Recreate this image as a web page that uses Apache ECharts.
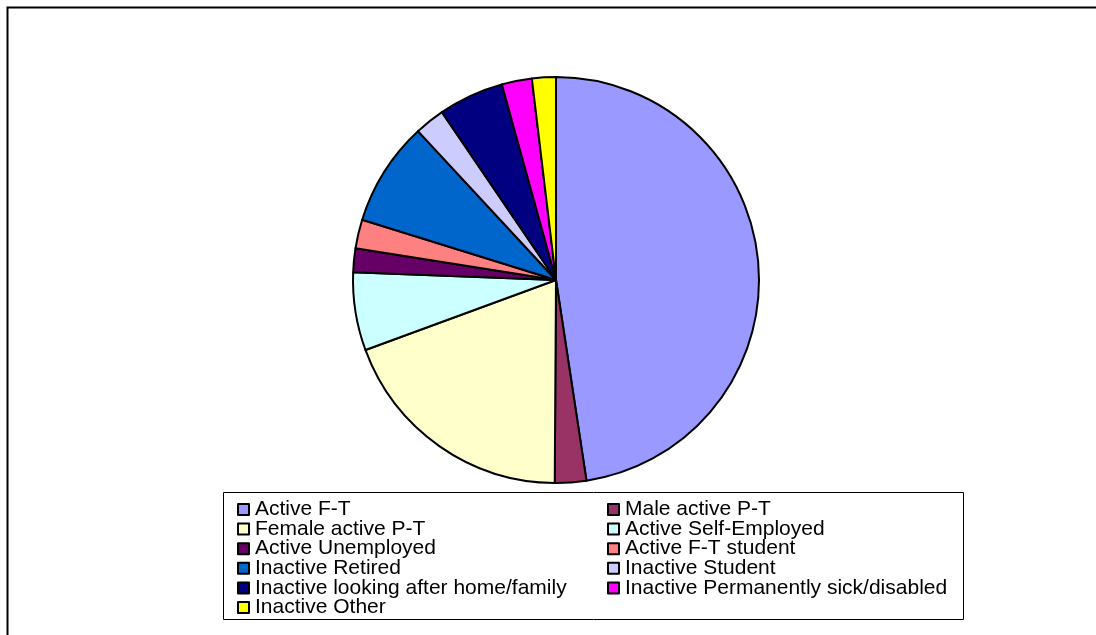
<!DOCTYPE html>
<html>
<head>
<meta charset="utf-8">
<script src="https://cdn.jsdelivr.net/npm/echarts@6/dist/echarts.min.js"></script>
<style>
  html, body { margin: 0; padding: 0; background: #fff; }
  #main { width: 1096px; height: 635px; }
</style>
</head>
<body>
<div id="main"></div>
<script>
// categories and shares (%)
var categories = [
  'Active F-T', 'Male active P-T', 'Female active P-T', 'Active Self-Employed',
  'Active Unemployed', 'Active F-T student', 'Inactive Retired', 'Inactive Student',
  'Inactive looking after home/family', 'Inactive Permanently sick/disabled', 'Inactive Other'
];
var values = [47.6, 2.5, 19.3, 6.2, 1.9, 2.3, 8.3, 2.4, 5.2, 2.4, 1.9];
var colors = ['#9999FF', '#993366', '#FFFFCC', '#CCFFFF', '#660066', '#FF8080',
  '#0066CC', '#CCCCFF', '#000080', '#FF00FF', '#FFFF00'];

var chart = echarts.init(document.getElementById('main'));

var leftCol = categories.filter(function (c, i) { return i % 2 === 0; });
var rightCol = categories.filter(function (c, i) { return i % 2 === 1; });

function legendCol(data, left) {
  return {
    data: data,
    orient: 'vertical',
    left: left,
    top: 499,
    padding: 0,
    itemGap: -1.4,
    itemWidth: 11,
    itemHeight: 11,
    icon: 'rect',
    selectedMode: false,
    itemStyle: { borderColor: '#000', borderWidth: 2 },
    textStyle: {
      fontFamily: 'Liberation Sans', fontSize: 21, color: '#000',
      padding: [0, 0, 0, 1]
    }
  };
}

var option = {
  animation: false,
  backgroundColor: '#fff',
  color: colors,
  graphic: [
    // outer frame (only top and left edges are inside the picture)
    { type: 'rect', shape: { x: 7.5, y: 7.5, width: 1200, height: 800 },
      style: { fill: null, stroke: '#000', lineWidth: 2 }, silent: true },
    // legend box
    { type: 'rect', shape: { x: 223.5, y: 492.5, width: 740, height: 127 },
      style: { fill: '#fff', stroke: '#000', lineWidth: 1 }, silent: true, z: -1 }
  ],
  legend: [legendCol(leftCol, 237), legendCol(rightCol, 607)],
  series: [{
    type: 'pie',
    center: [556, 280],
    radius: 203,
    startAngle: 90,
    clockwise: true,
    silent: true,
    label: { show: false },
    labelLine: { show: false },
    itemStyle: { borderColor: '#000', borderWidth: 2 },
    data: categories.map(function (c, i) { return { name: c, value: values[i] }; })
  }]
};

chart.setOption(option);
</script>
</body>
</html>
